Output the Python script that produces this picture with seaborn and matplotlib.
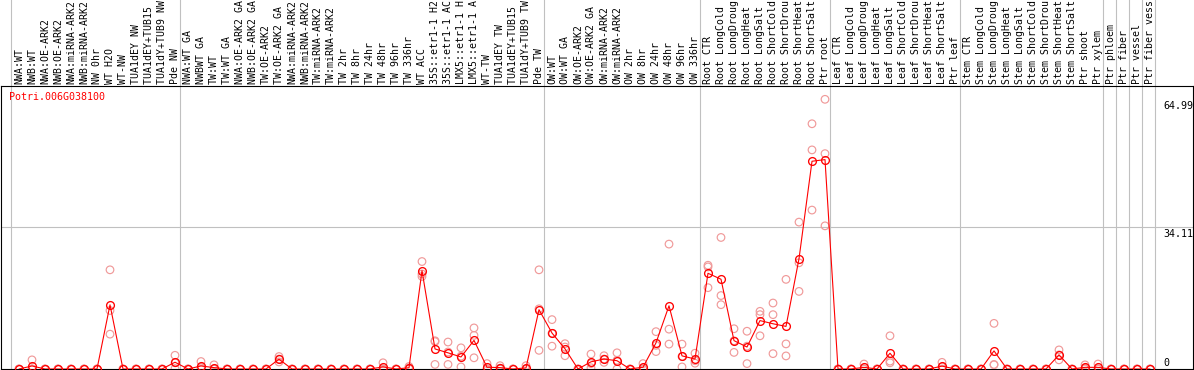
import matplotlib
matplotlib.use("Agg")
import matplotlib.pyplot as plt
import numpy as np
import pandas as pd
import seaborn as sns

gene = "Potri.006G038100"

samples = [
    "NWA:WT", "NWB:WT", "NWA:OE-ARK2", "NWB:OE-ARK2", "NWA:miRNA-ARK2", "NWB:miRNA-ARK2",
    "NW 0hr", "WT H2O", "WT-NW", "TUA1dEY NW", "TUA1dEY+TUB15 NW", "TUA1dY+TUB9 NW", "Pde NW",
    "NWA:WT GA", "NWBWT GA", "TW:WT", "TW:WT GA", "NWA:OE-ARK2 GA", "NWB:OE-ARK2 GA",
    "TW:OE-ARK2", "TW:OE-ARK2 GA", "NWA:miRNA-ARK2", "NWB:miRNA-ARK2", "TW:miRNA-ARK2",
    "TW:miRNA-ARK2", "TW 2hr", "TW 8hr", "TW 24hr", "TW 48hr", "TW 96hr", "TW 336hr",
    "WT ACC", "35S::etr1-1 H2O", "35S::etr1-1 ACC", "LMX5::etr1-1 H2O", "LMX5::etr1-1 ACC",
    "WT-TW", "TUA1dEY TW", "TUA1dEY+TUB15 TW", "TUA1dY+TUB9 TW", "Pde TW",
    "OW:WT", "OW:WT GA", "OW:OE-ARK2", "OW:OE-ARK2 GA", "OW:miRNA-ARK2", "OW:miRNA-ARK2",
    "OW 2hr", "OW 8hr", "OW 24hr", "OW 48hr", "OW 96hr", "OW 336hr",
    "Root CTR", "Root LongCold", "Root LongDrought", "Root LongHeat", "Root LongSalt",
    "Root ShortCold", "Root ShortDrought", "Root ShortHeat", "Root ShortSalt", "Ptr root",
    "Leaf CTR", "Leaf LongCold", "Leaf LongDrought", "Leaf LongHeat", "Leaf LongSalt",
    "Leaf ShortCold", "Leaf ShortDrought", "Leaf ShortHeat", "Leaf ShortSalt", "Ptr leaf",
    "Stem CTR", "Stem LongCold", "Stem LongDrought", "Stem LongHeat", "Stem LongSalt",
    "Stem ShortCold", "Stem ShortDrought", "Stem ShortHeat", "Stem ShortSalt", "Ptr shoot",
    "Ptr xylem", "Ptr phloem", "Ptr fiber", "Ptr vessel", "Ptr fiber vessel",
]

rep1 = [0, 2.2, 0, 0, 0, 0, 0, 23.9, 0, 0, 0, 0, 3.3,
        0, 1.8, 1.0, 0, 0, 0, 0, 3.0, 0, 0, 0, 0, 0, 0, 0, 1.5, 0, 0.6,
        25.9, 6.8, 6.5, 5.1, 9.9, 1.3, 0.8, 0, 0.8, 23.9,
        11.9, 6.1, 0, 3.6, 3.2, 3.9, 0, 1.3, 9.0, 30.1, 6.0, 3.8,
        25.0, 31.7, 9.7, 9.1, 13.9, 15.9, 21.6, 35.4, 59.1, 64.99,
        0, 0, 1.2, 0, 8.0, 0, 0, 0, 1.6, 0,
        0, 0, 11.0, 0, 0, 0, 0, 4.6, 0, 1.0, 1.2,
        0, 0, 0, 0]
rep2 = [0, 0, 0, 0, 0, 0, 0, 14.1, 0, 0, 0, 0, 1.5,
        0, 0.4, 0, 0, 0, 0, 0, 2.4, 0, 0, 0, 0, 0, 0, 0, 0, 0, 0.3,
        22.9, 6.6, 4.1, 3.1, 8.1, 0, 0.2, 0, 0, 14.5,
        8.6, 5.3, 0, 1.3, 2.4, 2.1, 0, 0, 5.7, 9.6, 3.0, 2.0,
        24.6, 17.7, 6.8, 5.5, 13.1, 13.1, 6.05, 25.6, 52.8, 51.9,
        0, 0, 0, 0, 1.9, 0, 0, 0, 0.5, 0,
        0, 0, 1.1, 0, 0, 0, 0, 3.4, 0, 0.2, 0,
        0, 0, 0, 0]
rep3 = [0, 0, 0, 0, 0, 0, 0, 8.4, 0, 0, 0, 0, 0.1,
        0, 0, 0, 0, 0, 0, 0, 1.7, 0, 0, 0, 0, 0, 0, 0, 0, 0, 0,
        22.3, 1.1, 1.1, 0.5, 2.7, 0, 0, 0, 0, 4.5,
        5.5, 3.2, 0, 0.3, 1.6, 0, 0, 0, 4.2, 6.0, 0.5, 1.4,
        19.6, 15.5, 4.0, 1.3, 8.0, 3.7, 3.15, 18.7, 38.3, 34.5,
        0, 0, 0, 0, 1.5, 0, 0, 0, 0, 0,
        0, 0, 1.0, 0, 0, 0, 0, 2.2, 0, 0, 0,
        0, 0, 0, 0]

group_sizes = [13, 28, 12, 10, 10, 11, 1, 1, 1, 1]
y_labels = [0, 34.11, 64.99]
max_label_chars = 14  # header is only this tall; the reference shows this many characters

# ---------------------------------------------------------------
W, H = 1194, 370
fig = plt.figure(figsize=(W / 100, H / 100), dpi=100)
sns.set_style("white")
plt.rcParams["font.family"] = ["DejaVu Sans Mono"]

ax_bottom_px, ax_top_px = 369, 86
ax = fig.add_axes([0.5 / W, (H - ax_bottom_px) / H, 1192.5 / W, (ax_bottom_px - ax_top_px) / H])
ax_h = ax_bottom_px - ax_top_px

n = len(samples)
idx = np.arange(n)
df = pd.DataFrame({
    "pos": np.concatenate([idx, idx, idx]),
    "value": np.concatenate([rep1, rep2, rep3]),
})

rep_color = "#f09a9a"
mean_color = "#ff0000"

sns.scatterplot(data=df, x="pos", y="value", ax=ax, marker="o", s=30,
                facecolors="none", edgecolor=rep_color, linewidth=0.85,
                zorder=3, legend=False)
sns.lineplot(data=df, x="pos", y="value", ax=ax, estimator="mean", errorbar=None,
             color=mean_color, linewidth=0.8, marker="o", markersize=5.6,
             markerfacecolor="none", markeredgecolor=mean_color, markeredgewidth=0.95,
             zorder=4, legend=False)

# scales: column centre px = 19 + 13*i
x_left = (0.5 - 19) / 13
x_right = (1193 - 19) / 13
ax.set_xlim(x_left, x_right)
ymax = 68.2
ax.set_ylim(0, ymax)
ax.set_xticks([])
ax.set_yticks([])
ax.set_xlabel("")
ax.set_ylabel("")

for s in ax.spines.values():
    s.set_color("black")
    s.set_linewidth(0.8)
    s.set_visible(True)

grid_c = "#c0c0c0"
ext = H / ax_h
ax.axhline(y_labels[1], color=grid_c, lw=0.8, zorder=1)
ax.axvline(-0.64, ymin=0, ymax=ext, color=grid_c, lw=0.8, clip_on=False, zorder=1)
for b in np.cumsum(group_sizes):
    ax.axvline(b - 0.58, ymin=0, ymax=ext, color=grid_c, lw=0.8, clip_on=False, zorder=1)

# header labels
tr = ax.get_xaxis_transform()
for i, lab in enumerate(samples):
    ax.text(i, 1 + 2 / ax_h, lab[:max_label_chars], transform=tr, rotation=90,
            ha="center", va="bottom", fontsize=7.1, color="black", clip_on=False)

# y labels (right, inside)
xl = (1163 - 19) / 13
for v in y_labels:
    txt = f"{v:g}"
    if v == 0:
        ax.annotate(txt, xy=(xl, v), xytext=(0, 1), textcoords="offset pixels",
                    ha="left", va="bottom", fontsize=7.2, color="black")
    else:
        ax.annotate(txt, xy=(xl, v), xytext=(0, -2), textcoords="offset pixels",
                    ha="left", va="top", fontsize=7.2, color="black")

ax.annotate(gene, xy=(8.8, ax_bottom_px - 96.7), xycoords="axes pixels",
            ha="left", va="center", fontsize=7.2, color="red")

fig.savefig("out.png", dpi=100)
